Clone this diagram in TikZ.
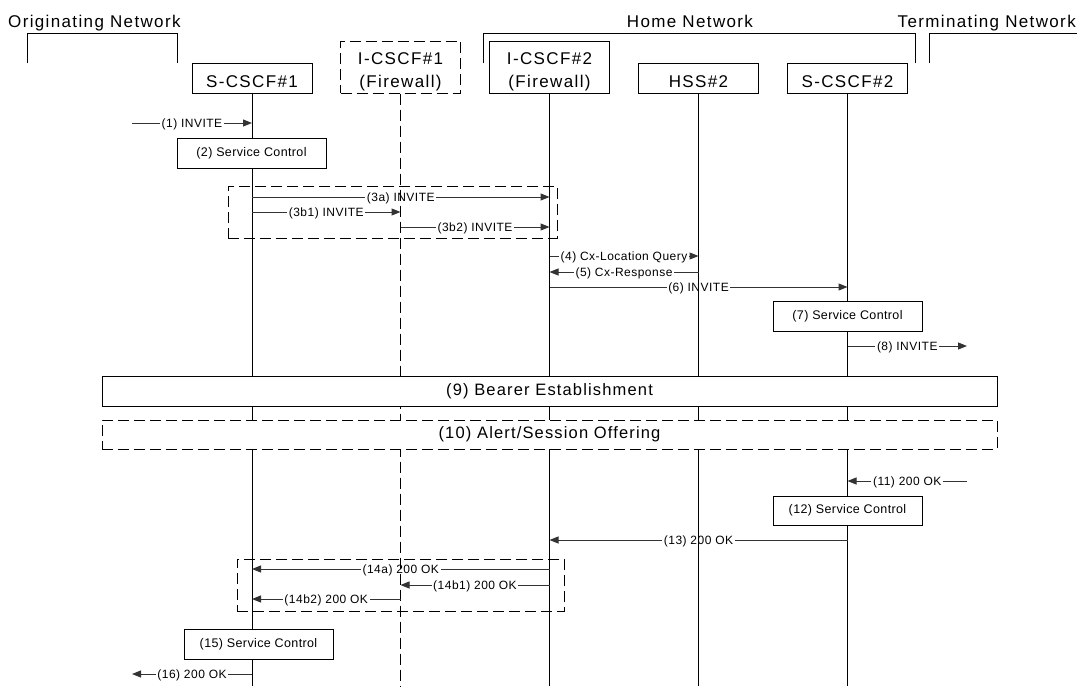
\documentclass[tikz,border=0pt]{standalone}
\usepackage{fontspec}
\setmainfont{Liberation Sans}
\newfontfamily\hdrfont[LetterSpace=8]{Liberation Sans}
\newfontfamily\msgfont[LetterSpace=4]{Liberation Sans}
\newfontfamily\svcfont[LetterSpace=3]{Liberation Sans}
\newfontfamily\barfont[LetterSpace=7]{Liberation Sans}
\usetikzlibrary{arrows.meta,calc}

\tikzset{
  hdrtext/.style={font=\hdrfont\fontsize{17}{22.5}\selectfont, inner sep=0pt},
  actorbox/.style={draw=black, line width=1pt, fill=white,
    minimum width=120pt, minimum height=30pt, inner sep=0pt},
  tallbox/.style={actorbox, minimum height=52pt},
  dashbox/.style={dash pattern=on 11pt off 5pt},
  life/.style={line width=1pt, black},
  svc/.style={draw, line width=1pt, fill=white, minimum width=149pt,
    minimum height=30pt, inner sep=0pt, font=\svcfont\fontsize{12.5}{15}\selectfont},
  bar/.style={draw, line width=1pt, fill=white, minimum width=895pt,
    minimum height=30pt, inner sep=0pt, font=\barfont\fontsize{16.5}{20}\selectfont},
  grp/.style={draw, line width=1pt, dash pattern=on 11pt off 5pt, inner sep=0pt},
  lbl/.style={font=\msgfont\fontsize{12}{14}\selectfont, inner xsep=1.5pt,
    inner ysep=0pt, text height=9pt, text depth=0.4pt},
  wire/.style={line width=1pt, black!80},
  tip/.style={-{Triangle[length=9pt,width=7pt]}},
  bracket/.style={line width=1pt, black},
}

% #1 label node, #2 sender, #3 receiver, #4 y position, #5 text
\newcommand{\sipmsg}[5]{%
  \coordinate (#1-a) at (#2 |- 0,#4);
  \coordinate (#1-b) at (#3 |- 0,#4);
  \node[lbl] (#1) at ($(#1-a)!0.5!(#1-b)$) {#5};
  \draw[wire] (#1-a) -- (#1);
  \draw[wire,tip] (#1) -- (#1-b);
}

\begin{document}
\begin{tikzpicture}[x=1pt,y=-1pt]
\useasboundingbox (0,0) rectangle (1077,686);
\fill[white] (0,0) rectangle (1077,686);

% network domains
\node[hdrtext, anchor=base west] (orig) at (8,27) {Originating Network};
\node[hdrtext, anchor=base] (home) at (690,27) {Home Network};
\node[hdrtext, anchor=base east] (term) at (1076,27) {Terminating Network};
\draw[bracket] (27,63) -- (27,33) -- (177,33) -- (177,63);
\draw[bracket] (483,63) -- (483,33) -- (915,33) -- (915,63);
\draw[bracket] (929,63) -- (929,33) -- (1077,33);

% entities
\node[actorbox] (s1) at (252,78) {};
\node[tallbox, dashbox] (i1) at (400.5,67) {};
\node[tallbox] (i2) at (549.5,67) {};
\node[actorbox] (hss) at (698.5,78) {};
\node[actorbox] (s2) at (847.5,78) {};
\node[hdrtext, anchor=base] (s1t) at (252,87) {S-CSCF\#1};
\node[hdrtext, align=center] (i1t) at (400.5,72) {I-CSCF\#1\\(Firewall)};
\node[hdrtext, align=center] (i2t) at (549.5,72) {I-CSCF\#2\\(Firewall)};
\node[hdrtext, anchor=base] (hsst) at (698.5,87) {HSS\#2};
\node[hdrtext, anchor=base] (s2t) at (847.5,87) {S-CSCF\#2};

% lifelines
\draw[life] (s1.south) -- (s1.south |- 0,686);
\draw[life, dashbox] (i1.south) -- (i1.south |- 0,686);
\draw[life] (i2.south) -- (i2.south |- 0,686);
\draw[life] (hss.south) -- (hss.south |- 0,686);
\draw[life] (s2.south) -- (s2.south |- 0,686);

% free ends outside the shown entities
\coordinate (oL) at (132,0);
\coordinate (tR) at (967,0);

% local procedures
\node[svc] (sc2) at (251.5,153) {(2) Service Control};
\node[svc] (sc7) at (847.5,316) {(7) Service Control};
\node[svc, minimum height=29pt] (sc12) at (847.5,510.5) {(12) Service Control};
\node[svc] (sc15) at (258.5,644) {(15) Service Control};

\node[bar] (b9) at (549.5,391) {(9) Bearer Establishment};
\node[bar, dashbox, minimum height=29pt] (b10) at (549.5,434.5) {(10) Alert/Session Offering};

% alternative routing groups
\node[grp, minimum width=329pt, minimum height=52pt] (g3) at (392.5,212) {};
\node[grp, minimum width=327pt, minimum height=52pt] (g14) at (400.5,585) {};

% messages
\sipmsg{m1}{oL}{s1.south}{123}{(1) INVITE}
\sipmsg{m3a}{s1.south}{i2.south}{197}{(3a) INVITE}
\sipmsg{m3b1}{s1.south}{i1.south}{212}{(3b1) INVITE}
\sipmsg{m3b2}{i1.south}{i2.south}{227}{(3b2) INVITE}
\sipmsg{m4}{i2.south}{hss.south}{256}{(4) Cx-Location Query}
\sipmsg{m5}{hss.south}{i2.south}{272}{(5) Cx-Response}
\sipmsg{m6}{i2.south}{s2.south}{287}{(6) INVITE}
\sipmsg{m8}{s2.south}{tR}{346}{(8) INVITE}
\sipmsg{m11}{tR}{s2.south}{481}{(11) 200 OK}
\sipmsg{m13}{s2.south}{i2.south}{540}{(13) 200 OK}
\sipmsg{m14a}{i2.south}{s1.south}{569}{(14a) 200 OK}
\sipmsg{m14b1}{i2.south}{i1.south}{585}{(14b1) 200 OK}
\sipmsg{m14b2}{i1.south}{s1.south}{599}{(14b2) 200 OK}
\sipmsg{m16}{s1.south}{oL}{674}{(16) 200 OK}
\end{tikzpicture}
\end{document}
